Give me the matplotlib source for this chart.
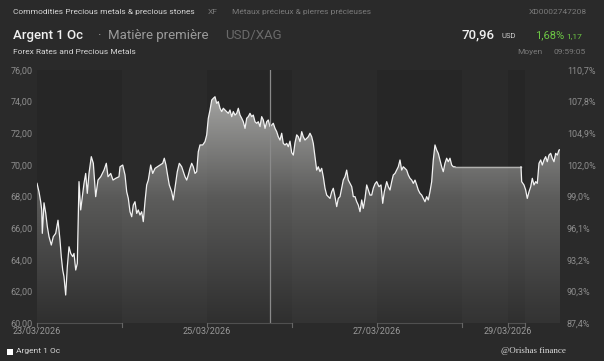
import numpy as np
import matplotlib
matplotlib.use("Agg")
import matplotlib.pyplot as plt
from matplotlib.colors import LinearSegmentedColormap
from matplotlib.patches import Polygon, Rectangle

# Argent 1 Oc (USD/XAG) - heures sur l'axe (week-end compressé)
t_week = [
    0.0, 0.56, 1.04, 1.33, 1.50, 1.98, 2.46, 2.91, 3.39, 4.04, 4.60, 5.28, 5.93, 6.49,
    6.86, 7.26, 7.62, 8.10, 8.56, 9.04, 9.52, 10.08, 10.45, 10.93, 11.38, 11.86, 12.34,
    12.79, 13.27, 13.75, 14.20, 14.68, 15.33, 15.90, 16.57, 17.22, 17.99, 18.92, 19.57,
    20.05, 20.81, 21.46, 22.22, 23.15,
    23.44, 24.20, 24.85, 25.33, 25.78, 26.26, 26.74, 27.19, 27.67, 28.15, 28.60, 29.08,
    29.56, 30.01, 30.49, 30.97, 31.43, 32.10, 32.67, 33.32, 33.97, 34.73, 35.49, 35.94,
    36.42, 36.79, 37.35, 38.03, 38.48, 38.96, 39.61, 40.18, 40.86, 41.31, 41.79, 42.27,
    42.72, 43.20, 43.68, 44.13, 44.61, 45.09, 45.54, 46.02, 46.78, 47.43,
    47.91, 48.37, 48.85, 49.33, 49.78, 50.26, 50.74, 51.19, 51.67, 52.15, 52.60, 53.08,
    53.56, 54.01, 54.49, 54.97, 55.43, 55.91, 56.39, 56.84, 57.32, 57.80, 58.25, 58.73,
    59.21, 59.66, 60.14, 60.62, 61.07, 61.55, 62.03, 62.48, 62.96, 63.44, 63.90, 64.38,
    64.86, 65.31, 65.79, 66.27, 66.72, 67.20, 67.68, 68.13, 68.61, 69.09, 69.54, 70.02,
    70.50, 70.95,
    71.43, 71.91, 72.37, 72.85, 73.33, 73.78, 74.26, 74.74, 75.19, 75.67, 76.15, 76.60,
    77.08, 77.56, 78.01, 78.49, 78.97, 79.42, 79.90, 80.38, 80.84, 81.32, 81.80, 82.25,
    82.73, 83.21, 83.66, 84.14, 84.62, 85.07, 85.55, 86.03, 86.48, 86.96, 87.44, 87.89,
    88.38, 88.86, 89.31, 89.79, 90.27, 90.72, 91.20, 91.68, 92.13, 92.61, 93.09, 93.54,
    94.02, 94.50, 94.95,
    95.44, 95.92, 96.56, 97.13, 97.61, 98.06, 98.74, 99.19, 99.67, 100.15, 100.60, 101.08,
    101.56, 102.01, 102.49, 102.97, 103.42, 103.90, 104.38, 104.84, 105.32, 105.80, 106.25,
    106.73, 107.21, 107.66, 108.14, 108.62, 109.07, 109.55, 110.03, 110.48, 110.96, 111.44,
    111.89, 112.37, 112.85, 113.30, 113.78, 114.26, 114.71, 115.19, 115.67, 116.12, 116.61,
    117.09, 117.54, 118.02,
]
p_week = [
    68.83, 68.30, 67.67, 67.15, 65.67, 67.60, 66.96, 66.10, 65.46, 64.93, 65.46, 65.67, 66.50, 65.25,
    64.19, 63.35, 62.93, 61.77, 63.56, 64.82, 64.40, 64.20, 64.40, 63.35, 63.77, 68.94, 67.15,
    67.99, 68.83, 69.46, 68.20, 69.46, 70.52, 70.10, 67.99, 69.04, 69.25, 69.67, 70.10,
    69.25, 69.46, 69.04, 69.15, 69.25,
    69.88, 69.99, 69.36, 68.30, 67.88, 67.04, 66.72, 67.46, 67.67, 66.93, 67.15, 66.83,
    67.04, 66.41, 67.67, 68.73, 69.04, 69.99, 69.46, 69.78, 69.88, 69.99, 70.10, 70.42,
    69.99, 69.46, 68.73, 68.30, 67.78, 68.52, 69.57, 70.10, 69.88, 69.57, 69.25, 69.04,
    69.36, 69.78, 70.10, 69.88, 69.46, 69.57, 70.83, 71.26, 71.26, 71.47,
    71.89, 72.95, 73.47, 74.10, 74.21, 74.31, 73.89, 74.00, 73.58, 73.37, 73.58, 73.47,
    73.37, 73.26, 73.47, 73.05, 73.37, 73.15, 73.26, 73.58, 73.15, 72.95, 72.73, 72.31,
    72.95, 73.05, 73.26, 73.05, 73.15, 72.73, 72.63, 72.73, 72.42, 73.05, 72.84, 72.31,
    72.73, 72.84, 72.42, 72.52, 72.63, 72.31, 72.10, 71.78, 71.57, 72.00, 71.36, 71.26,
    71.36, 71.15,
    71.50, 70.78, 70.62, 71.40, 71.90, 71.78, 71.47, 72.10, 71.78, 71.57, 71.68, 71.78,
    72.00, 71.78, 71.36, 70.52, 69.67, 69.88, 69.57, 69.78, 69.25, 68.52, 68.09, 67.99,
    67.88, 68.30, 68.52, 67.99, 67.36, 67.88, 67.99, 68.52, 69.04, 69.25, 69.67, 69.04,
    68.83, 68.62, 67.99, 67.99, 67.67, 67.46, 67.04, 67.78, 67.25, 67.88, 68.73, 68.41,
    68.09, 68.09, 68.52,
    68.80, 68.94, 68.62, 68.73, 67.57, 68.30, 68.94, 68.62, 68.41, 68.94, 69.36, 69.46,
    69.67, 69.88, 70.31, 69.67, 69.88, 69.78, 69.67, 69.36, 69.15, 69.04, 68.83,
    69.04, 68.73, 68.41, 68.20, 68.09, 67.88, 67.67, 67.99, 67.78, 68.30, 68.94,
    70.31, 71.26, 70.94, 70.73, 70.31, 69.88, 69.57, 70.10, 70.42, 70.20, 70.42,
    69.99, 69.88, 69.88,
]
# lundi 30/03 (après le week-end, cours figé à 69,88)
t_mon = [136.66, 136.85, 137.50, 137.98, 138.43, 138.92, 139.40, 139.85, 140.33, 140.81,
         141.26, 141.74, 142.22, 142.67, 143.15, 143.63, 144.08, 144.56, 145.04, 145.49,
         145.97, 146.45, 146.91, 147.38, 147.67]
p_mon = [69.88, 68.94, 68.73, 68.41, 67.88, 68.30, 68.62, 69.15, 68.73, 68.94,
         68.83, 70.10, 70.31, 69.99, 70.31, 70.52, 70.20, 70.62, 70.73, 70.42,
         70.20, 70.73, 70.62, 70.94, 70.96]

day_edges = [0, 24, 48, 72, 96, 120, 133, 137.8, 147.67]
date_ticks = [0, 48, 96, 133]
date_labels = ["23/03/2026", "25/03/2026", "27/03/2026", "29/03/2026"]
price_ticks = [60, 62, 64, 66, 68, 70, 72, 74, 76]
price_labels = ["60,00", "62,00", "64,00", "66,00", "68,00", "70,00", "72,00", "74,00", "76,00"]
pct_labels = ["87,4%", "90,3%", "93,2%", "96,1%", "99,0%", "102,0%", "104,9%", "107,8%", "110,7%"]
cursor_t = 65.8

BG = "#2a2a2a"
plt.rcParams["font.family"] = ["Roboto", "DejaVu Sans"]

fig = plt.figure(figsize=(6.04, 3.61), dpi=100, facecolor=BG)
ax = fig.add_axes([37 / 604, 1 - 323 / 361, 523 / 604, 253 / 361])
ax.set_facecolor("#262626")
ax.set_xlim(0, day_edges[-1])
ax.set_ylim(60, 76)

t_all = np.r_[t_week, t_mon]
p_all = np.r_[p_week, p_mon]

# dégradé sous la courbe
verts = np.column_stack([np.r_[t_all[0], t_all, t_all[-1]], np.r_[60, p_all, 60]])
clip = Polygon(verts, closed=True, facecolor="none", edgecolor="none")
ax.add_patch(clip)
cmap = LinearSegmentedColormap.from_list("g", ["#2f2f2f", "#5a5a59", "#b5b5b3"])
grad = np.linspace(0, 1, 256).reshape(-1, 1)
im = ax.imshow(grad, extent=[0, day_edges[-1], 60, 76], origin="lower",
               aspect="auto", cmap=cmap, zorder=1)
im.set_clip_path(clip)

# bandes des jours
for i in range(len(day_edges) - 1):
    if i % 2 == 1:
        ax.axvspan(day_edges[i], day_edges[i + 1], color="white", alpha=0.018, lw=0, zorder=2)

ax.plot(t_week, p_week, color="#f2f2f2", lw=0.9, zorder=3)
ax.plot([t_week[-1], t_mon[0]], [p_week[-1], p_mon[0]], color="#b0b0ae", lw=1.0, zorder=3)
ax.plot(t_mon, p_mon, color="#f2f2f2", lw=0.9, zorder=3)
ax.axvline(cursor_t, color="#8a8a8a", lw=0.9, zorder=4)

for s in ax.spines.values():
    s.set_visible(False)
ax.set_yticks(price_ticks)
ax.set_yticklabels(price_labels)
ax.tick_params(axis="y", length=0, pad=3, labelsize=6.5, labelcolor="#8e8e8e")
ax.set_xticks(date_ticks)
ax.set_xticklabels(date_labels)
ax.tick_params(axis="x", length=0, pad=3, labelsize=6.5, labelcolor="#9a9a9a")

# repères en bas de l'axe
for i in range(len(day_edges) - 1):
    if i % 2 == 0:
        ax.plot([day_edges[i], day_edges[i + 1]], [60, 60], color="#505050", lw=0.8,
                clip_on=False, zorder=5)
for e in day_edges[:-1]:
    ax.plot([e, e], [60, 60 - 0.25], color="#666666", lw=0.8, clip_on=False, zorder=5)

ax2 = ax.twinx()
ax2.set_ylim(60, 76)
ax2.set_yticks(price_ticks)
ax2.set_yticklabels(pct_labels)
ax2.tick_params(axis="y", length=0, pad=5, labelsize=6.5, labelcolor="#8e8e8e")
for s in ax2.spines.values():
    s.set_visible(False)

# en-tête
def ftxt(x, y, s, **kw):
    fig.text(x / 604, 1 - y / 361, s, va="center", **kw)

ftxt(13, 12, "Commodities Precious metals & precious stones", fontsize=6, color="#d6d6d6")
ftxt(208, 12, "XF", fontsize=6, color="#7a7a7a")
ftxt(232, 12, "Métaux précieux & pierres précieuses", fontsize=6, color="#7a7a7a")
ftxt(587, 12, "XD0002747208", fontsize=6, color="#7a7a7a", ha="right")
ftxt(13, 35, "Argent 1 Oc", fontsize=9.5, color="#f0f0f0", fontweight="medium")
ftxt(98, 35, "·  Matière première", fontsize=9.5, color="#9a9a9a")
ftxt(225, 35, "USD/XAG", fontsize=9.5, color="#6a6a6a")
ftxt(461, 35, "70,96", fontsize=9.5, color="#f0f0f0", fontweight="medium")
ftxt(501, 36, "USD", fontsize=5.5, color="#d0d0d0")
ftxt(535, 35, "1,68%", fontsize=8, color="#6cc644")
ftxt(566, 36, "1,17", fontsize=6, color="#6cc644")
ftxt(13, 52, "Forex Rates and Precious Metals", fontsize=6, color="#d6d6d6")
ftxt(517, 52, "Moyen", fontsize=6, color="#7a7a7a")
ftxt(553, 52, "09:59:05", fontsize=6, color="#7a7a7a")

# légende et signature
fig.patches.append(Rectangle((7 / 604, 1 - 355 / 361), 6 / 604, 6 / 361,
                             transform=fig.transFigure, facecolor="white", edgecolor="none"))
ftxt(16, 351.5, "Argent 1 Oc", fontsize=6, color="#d6d6d6")
ftxt(501, 351, "@Orishas finance", fontsize=6.5, color="#dddddd", family="Liberation Serif")

fig.savefig("out.png", dpi=100, facecolor=BG)
